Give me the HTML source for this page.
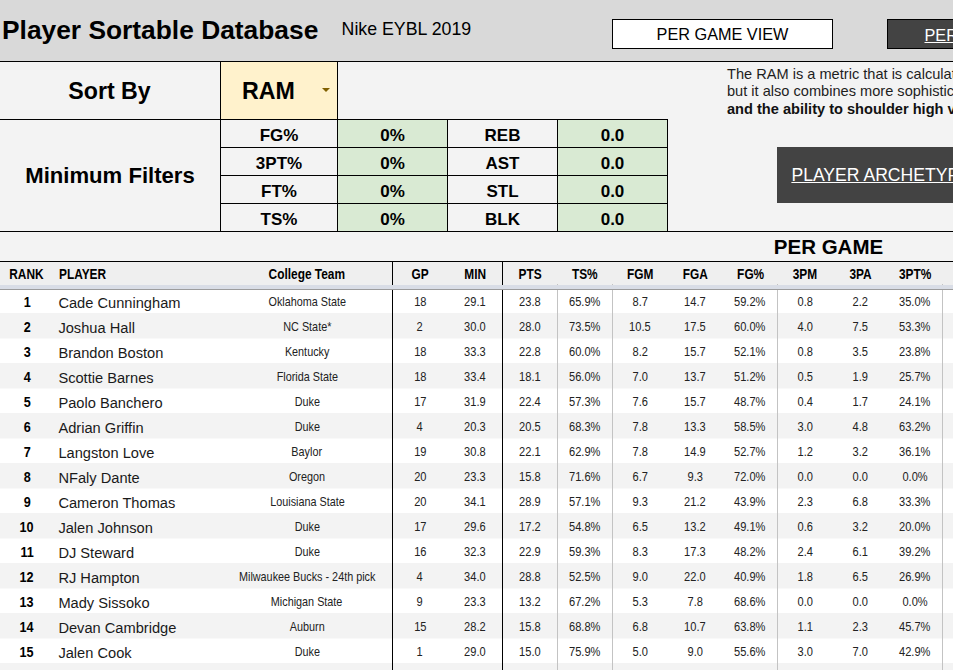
<!DOCTYPE html>
<html><head><meta charset="utf-8">
<style>
html,body{margin:0;padding:0;}
body{width:953px;height:670px;overflow:hidden;position:relative;background:#fff;font-family:"Liberation Sans",sans-serif;color:#000;}
.r{position:absolute;}
.t{position:absolute;white-space:nowrap;line-height:1;}
.c{position:absolute;white-space:nowrap;line-height:1;text-align:center;display:flex;justify-content:center;}
.c span{display:inline-block;transform-origin:center center;}
</style></head><body>
<div class="r" style="left:0px;top:0px;width:953px;height:61px;background:#d9d9d9;"></div>
<div class="r" style="left:0px;top:61px;width:953px;height:201px;background:#f3f3f3;"></div>
<div class="r" style="left:221px;top:62px;width:116px;height:57px;background:#fff2cc;"></div>
<div class="r" style="left:338px;top:120px;width:109px;height:27px;background:#d9ead3;"></div>
<div class="r" style="left:558px;top:120px;width:109px;height:27px;background:#d9ead3;"></div>
<div class="r" style="left:338px;top:148px;width:109px;height:27px;background:#d9ead3;"></div>
<div class="r" style="left:558px;top:148px;width:109px;height:27px;background:#d9ead3;"></div>
<div class="r" style="left:338px;top:176px;width:109px;height:27px;background:#d9ead3;"></div>
<div class="r" style="left:558px;top:176px;width:109px;height:27px;background:#d9ead3;"></div>
<div class="r" style="left:338px;top:204px;width:109px;height:27px;background:#d9ead3;"></div>
<div class="r" style="left:558px;top:204px;width:109px;height:27px;background:#d9ead3;"></div>
<div class="r" style="left:0px;top:262px;width:953px;height:23px;background:#efefef;"></div>
<div class="r" style="left:0px;top:285px;width:953px;height:4px;background:#d9dde6;"></div>
<div class="r" style="left:0px;top:289px;width:953px;height:1px;background:#9c9c9c;"></div>
<div class="r" style="left:0px;top:290px;width:953px;height:23px;background:#ffffff;"></div>
<div class="r" style="left:0px;top:313px;width:953px;height:25px;background:#f3f3f3;"></div>
<div class="r" style="left:0px;top:338px;width:953px;height:25px;background:#ffffff;"></div>
<div class="r" style="left:0px;top:363px;width:953px;height:25px;background:#f3f3f3;"></div>
<div class="r" style="left:0px;top:388px;width:953px;height:25px;background:#ffffff;"></div>
<div class="r" style="left:0px;top:413px;width:953px;height:25px;background:#f3f3f3;"></div>
<div class="r" style="left:0px;top:438px;width:953px;height:25px;background:#ffffff;"></div>
<div class="r" style="left:0px;top:463px;width:953px;height:25px;background:#f3f3f3;"></div>
<div class="r" style="left:0px;top:488px;width:953px;height:25px;background:#ffffff;"></div>
<div class="r" style="left:0px;top:513px;width:953px;height:25px;background:#f3f3f3;"></div>
<div class="r" style="left:0px;top:538px;width:953px;height:25px;background:#ffffff;"></div>
<div class="r" style="left:0px;top:563px;width:953px;height:25px;background:#f3f3f3;"></div>
<div class="r" style="left:0px;top:588px;width:953px;height:25px;background:#ffffff;"></div>
<div class="r" style="left:0px;top:613px;width:953px;height:25px;background:#f3f3f3;"></div>
<div class="r" style="left:0px;top:638px;width:953px;height:25px;background:#ffffff;"></div>
<div class="r" style="left:0px;top:663px;width:953px;height:25px;background:#f3f3f3;"></div>
<div class="r" style="left:0px;top:338px;width:953px;height:1px;background:#f9f9f9;"></div>
<div class="r" style="left:0px;top:388px;width:953px;height:1px;background:#f9f9f9;"></div>
<div class="r" style="left:0px;top:438px;width:953px;height:1px;background:#f9f9f9;"></div>
<div class="r" style="left:0px;top:488px;width:953px;height:1px;background:#f9f9f9;"></div>
<div class="r" style="left:0px;top:538px;width:953px;height:1px;background:#f9f9f9;"></div>
<div class="r" style="left:0px;top:588px;width:953px;height:1px;background:#f9f9f9;"></div>
<div class="r" style="left:0px;top:638px;width:953px;height:1px;background:#f9f9f9;"></div>
<div class="r" style="left:0px;top:688px;width:953px;height:1px;background:#f9f9f9;"></div>
<div class="r" style="left:612px;top:19px;width:221px;height:30px;background:#ffffff;box-sizing:border-box;border:1px solid #000;"></div>
<div class="r" style="left:887px;top:19px;width:80px;height:30px;background:#434343;box-sizing:border-box;border:1px solid #000;"></div>
<div class="r" style="left:777px;top:147px;width:190px;height:56px;background:#434343;"></div>
<div class="r" style="left:0px;top:61px;width:953px;height:1px;background:#000;"></div>
<div class="r" style="left:220px;top:61px;width:1px;height:171px;background:#000;"></div>
<div class="r" style="left:337px;top:61px;width:1px;height:171px;background:#000;"></div>
<div class="r" style="left:0px;top:119px;width:668px;height:1px;background:#000;"></div>
<div class="r" style="left:220px;top:147px;width:448px;height:1px;background:#000;"></div>
<div class="r" style="left:220px;top:175px;width:448px;height:1px;background:#000;"></div>
<div class="r" style="left:220px;top:203px;width:448px;height:1px;background:#000;"></div>
<div class="r" style="left:447px;top:119px;width:1px;height:113px;background:#000;"></div>
<div class="r" style="left:557px;top:119px;width:1px;height:113px;background:#000;"></div>
<div class="r" style="left:667px;top:119px;width:1px;height:113px;background:#000;"></div>
<div class="r" style="left:0px;top:231px;width:953px;height:1px;background:#000;"></div>
<div class="r" style="left:0px;top:261px;width:953px;height:1px;background:#000;"></div>
<div class="r" style="left:392px;top:261px;width:1px;height:24px;background:#000;"></div>
<div class="r" style="left:392px;top:290px;width:1px;height:380px;background:#000;"></div>
<div class="r" style="left:502px;top:261px;width:1px;height:24px;background:#000;"></div>
<div class="r" style="left:502px;top:290px;width:1px;height:380px;background:#000;"></div>
<div class="r" style="left:557px;top:290px;width:1px;height:380px;background:#c3c3c3;"></div>
<div class="r" style="left:557px;top:284px;width:1px;height:1px;background:#c3c3c3;"></div>
<div class="r" style="left:612px;top:290px;width:1px;height:380px;background:#c3c3c3;"></div>
<div class="r" style="left:612px;top:284px;width:1px;height:1px;background:#c3c3c3;"></div>
<div class="r" style="left:777px;top:290px;width:1px;height:380px;background:#c3c3c3;"></div>
<div class="r" style="left:777px;top:284px;width:1px;height:1px;background:#c3c3c3;"></div>
<div class="r" style="left:942px;top:290px;width:1px;height:380px;background:#c3c3c3;"></div>
<div class="r" style="left:942px;top:284px;width:1px;height:1px;background:#c3c3c3;"></div>
<div class="t" style="left:2px;top:16.69px;font-size:26.35px;font-weight:bold;">Player Sortable Database</div>
<div class="t" style="left:341.6px;top:20.57px;font-size:17.75px;">Nike EYBL 2019</div>
<div class="c" style="left:612px;width:221px;top:26.14px;font-size:16.25px;">PER GAME VIEW</div>
<div class="t" style="left:924.5px;top:27.24px;font-size:16.25px;color:#fff;text-decoration:underline;">PER</div>
<div class="c" style="left:-0.5px;width:220px;top:80.16px;font-size:23.2px;font-weight:bold;">Sort By</div>
<div class="t" style="left:242px;top:79.86px;font-size:23.2px;font-weight:bold;">RAM</div>
<div class="r" style="left:321.6px;top:87.8px;width:0;height:0;border-left:4.7px solid transparent;border-right:4.7px solid transparent;border-top:4.8px solid #806000;"></div>
<div class="t" style="left:727px;top:67.14px;font-size:14.6px;color:#1e1e1e;">The RAM is a metric that is calculated</div>
<div class="t" style="left:727px;top:83.54px;font-size:14.6px;color:#1e1e1e;">but it also combines more sophisticated</div>
<div class="t" style="left:727px;top:102.24px;font-size:14.6px;font-weight:bold;color:#111;">and the ability to shoulder high volume</div>
<div class="c" style="left:0px;width:220px;top:164.59px;font-size:22.1px;font-weight:bold;">Minimum Filters</div>
<div class="c" style="left:221px;width:116px;top:126.51px;font-size:17px;font-weight:bold;">FG%</div>
<div class="c" style="left:338px;width:109px;top:126.51px;font-size:17px;font-weight:bold;">0%</div>
<div class="c" style="left:448px;width:109px;top:126.51px;font-size:17px;font-weight:bold;">REB</div>
<div class="c" style="left:558px;width:109px;top:126.51px;font-size:17px;font-weight:bold;">0.0</div>
<div class="c" style="left:221px;width:116px;top:154.51px;font-size:17px;font-weight:bold;">3PT%</div>
<div class="c" style="left:338px;width:109px;top:154.51px;font-size:17px;font-weight:bold;">0%</div>
<div class="c" style="left:448px;width:109px;top:154.51px;font-size:17px;font-weight:bold;">AST</div>
<div class="c" style="left:558px;width:109px;top:154.51px;font-size:17px;font-weight:bold;">0.0</div>
<div class="c" style="left:221px;width:116px;top:182.51px;font-size:17px;font-weight:bold;">FT%</div>
<div class="c" style="left:338px;width:109px;top:182.51px;font-size:17px;font-weight:bold;">0%</div>
<div class="c" style="left:448px;width:109px;top:182.51px;font-size:17px;font-weight:bold;">STL</div>
<div class="c" style="left:558px;width:109px;top:182.51px;font-size:17px;font-weight:bold;">0.0</div>
<div class="c" style="left:221px;width:116px;top:210.51px;font-size:17px;font-weight:bold;">TS%</div>
<div class="c" style="left:338px;width:109px;top:210.51px;font-size:17px;font-weight:bold;">0%</div>
<div class="c" style="left:448px;width:109px;top:210.51px;font-size:17px;font-weight:bold;">BLK</div>
<div class="c" style="left:558px;width:109px;top:210.51px;font-size:17px;font-weight:bold;">0.0</div>
<div class="t" style="left:791.4px;top:167.0px;font-size:17.6px;color:#fff;text-decoration:underline;">PLAYER ARCHETYPES</div>
<div class="c" style="left:728.5px;width:200px;top:236.65px;font-size:20.5px;font-weight:bold;">PER GAME</div>
<div class="c" style="left:-0.8px;width:54px;top:265.78px;font-size:15.5px;font-weight:bold;"><span style="transform:scaleX(0.767)">RANK</span></div>
<div class="t" style="left:58.8px;top:265.78px;font-size:15.5px;font-weight:bold;"><span style="display:inline-block;transform:scaleX(0.767);transform-origin:left center">PLAYER</span></div>
<div class="c" style="left:221px;width:171px;top:265.78px;font-size:15.5px;font-weight:bold;"><span style="transform:scaleX(0.767)">College Team</span></div>
<div class="c" style="left:392.7px;width:55px;top:265.78px;font-size:15.5px;font-weight:bold;"><span style="transform:scaleX(0.767)">GP</span></div>
<div class="c" style="left:447.7px;width:55px;top:265.78px;font-size:15.5px;font-weight:bold;"><span style="transform:scaleX(0.767)">MIN</span></div>
<div class="c" style="left:502.7px;width:55px;top:265.78px;font-size:15.5px;font-weight:bold;"><span style="transform:scaleX(0.767)">PTS</span></div>
<div class="c" style="left:557.7px;width:55px;top:265.78px;font-size:15.5px;font-weight:bold;"><span style="transform:scaleX(0.767)">TS%</span></div>
<div class="c" style="left:612.7px;width:55px;top:265.78px;font-size:15.5px;font-weight:bold;"><span style="transform:scaleX(0.767)">FGM</span></div>
<div class="c" style="left:667.7px;width:55px;top:265.78px;font-size:15.5px;font-weight:bold;"><span style="transform:scaleX(0.767)">FGA</span></div>
<div class="c" style="left:722.7px;width:55px;top:265.78px;font-size:15.5px;font-weight:bold;"><span style="transform:scaleX(0.767)">FG%</span></div>
<div class="c" style="left:777.7px;width:55px;top:265.78px;font-size:15.5px;font-weight:bold;"><span style="transform:scaleX(0.767)">3PM</span></div>
<div class="c" style="left:832.7px;width:55px;top:265.78px;font-size:15.5px;font-weight:bold;"><span style="transform:scaleX(0.767)">3PA</span></div>
<div class="c" style="left:887.7px;width:55px;top:265.78px;font-size:15.5px;font-weight:bold;"><span style="transform:scaleX(0.767)">3PT%</span></div>
<div class="c" style="left:0px;width:54px;top:293.96px;font-size:15.4px;font-weight:bold;"><span style="transform:scaleX(0.82)">1</span></div>
<div class="t" style="left:58.4px;top:295.8px;font-size:14.65px;color:#1a1a1a;">Cade Cunningham</div>
<div class="c" style="left:221.6px;width:171px;top:294.83px;font-size:13.2px;color:#222;"><span style="transform:scaleX(0.82)">Oklahoma State</span></div>
<div class="c" style="left:392.6px;width:55px;top:294.93px;font-size:13.2px;color:#222;"><span style="transform:scaleX(0.84)">18</span></div>
<div class="c" style="left:447.6px;width:55px;top:294.93px;font-size:13.2px;color:#222;"><span style="transform:scaleX(0.84)">29.1</span></div>
<div class="c" style="left:502.6px;width:55px;top:294.93px;font-size:13.2px;color:#222;"><span style="transform:scaleX(0.84)">23.8</span></div>
<div class="c" style="left:557.6px;width:55px;top:294.93px;font-size:13.2px;color:#222;"><span style="transform:scaleX(0.84)">65.9%</span></div>
<div class="c" style="left:612.6px;width:55px;top:294.93px;font-size:13.2px;color:#222;"><span style="transform:scaleX(0.84)">8.7</span></div>
<div class="c" style="left:667.6px;width:55px;top:294.93px;font-size:13.2px;color:#222;"><span style="transform:scaleX(0.84)">14.7</span></div>
<div class="c" style="left:722.6px;width:55px;top:294.93px;font-size:13.2px;color:#222;"><span style="transform:scaleX(0.84)">59.2%</span></div>
<div class="c" style="left:777.6px;width:55px;top:294.93px;font-size:13.2px;color:#222;"><span style="transform:scaleX(0.84)">0.8</span></div>
<div class="c" style="left:832.6px;width:55px;top:294.93px;font-size:13.2px;color:#222;"><span style="transform:scaleX(0.84)">2.2</span></div>
<div class="c" style="left:887.6px;width:55px;top:294.93px;font-size:13.2px;color:#222;"><span style="transform:scaleX(0.84)">35.0%</span></div>
<div class="c" style="left:0px;width:54px;top:318.96px;font-size:15.4px;font-weight:bold;"><span style="transform:scaleX(0.82)">2</span></div>
<div class="t" style="left:58.4px;top:320.8px;font-size:14.65px;color:#1a1a1a;">Joshua Hall</div>
<div class="c" style="left:221.6px;width:171px;top:319.83px;font-size:13.2px;color:#222;"><span style="transform:scaleX(0.82)">NC State*</span></div>
<div class="c" style="left:392.6px;width:55px;top:319.93px;font-size:13.2px;color:#222;"><span style="transform:scaleX(0.84)">2</span></div>
<div class="c" style="left:447.6px;width:55px;top:319.93px;font-size:13.2px;color:#222;"><span style="transform:scaleX(0.84)">30.0</span></div>
<div class="c" style="left:502.6px;width:55px;top:319.93px;font-size:13.2px;color:#222;"><span style="transform:scaleX(0.84)">28.0</span></div>
<div class="c" style="left:557.6px;width:55px;top:319.93px;font-size:13.2px;color:#222;"><span style="transform:scaleX(0.84)">73.5%</span></div>
<div class="c" style="left:612.6px;width:55px;top:319.93px;font-size:13.2px;color:#222;"><span style="transform:scaleX(0.84)">10.5</span></div>
<div class="c" style="left:667.6px;width:55px;top:319.93px;font-size:13.2px;color:#222;"><span style="transform:scaleX(0.84)">17.5</span></div>
<div class="c" style="left:722.6px;width:55px;top:319.93px;font-size:13.2px;color:#222;"><span style="transform:scaleX(0.84)">60.0%</span></div>
<div class="c" style="left:777.6px;width:55px;top:319.93px;font-size:13.2px;color:#222;"><span style="transform:scaleX(0.84)">4.0</span></div>
<div class="c" style="left:832.6px;width:55px;top:319.93px;font-size:13.2px;color:#222;"><span style="transform:scaleX(0.84)">7.5</span></div>
<div class="c" style="left:887.6px;width:55px;top:319.93px;font-size:13.2px;color:#222;"><span style="transform:scaleX(0.84)">53.3%</span></div>
<div class="c" style="left:0px;width:54px;top:343.96px;font-size:15.4px;font-weight:bold;"><span style="transform:scaleX(0.82)">3</span></div>
<div class="t" style="left:58.4px;top:345.8px;font-size:14.65px;color:#1a1a1a;">Brandon Boston</div>
<div class="c" style="left:221.6px;width:171px;top:344.83px;font-size:13.2px;color:#222;"><span style="transform:scaleX(0.82)">Kentucky</span></div>
<div class="c" style="left:392.6px;width:55px;top:344.93px;font-size:13.2px;color:#222;"><span style="transform:scaleX(0.84)">18</span></div>
<div class="c" style="left:447.6px;width:55px;top:344.93px;font-size:13.2px;color:#222;"><span style="transform:scaleX(0.84)">33.3</span></div>
<div class="c" style="left:502.6px;width:55px;top:344.93px;font-size:13.2px;color:#222;"><span style="transform:scaleX(0.84)">22.8</span></div>
<div class="c" style="left:557.6px;width:55px;top:344.93px;font-size:13.2px;color:#222;"><span style="transform:scaleX(0.84)">60.0%</span></div>
<div class="c" style="left:612.6px;width:55px;top:344.93px;font-size:13.2px;color:#222;"><span style="transform:scaleX(0.84)">8.2</span></div>
<div class="c" style="left:667.6px;width:55px;top:344.93px;font-size:13.2px;color:#222;"><span style="transform:scaleX(0.84)">15.7</span></div>
<div class="c" style="left:722.6px;width:55px;top:344.93px;font-size:13.2px;color:#222;"><span style="transform:scaleX(0.84)">52.1%</span></div>
<div class="c" style="left:777.6px;width:55px;top:344.93px;font-size:13.2px;color:#222;"><span style="transform:scaleX(0.84)">0.8</span></div>
<div class="c" style="left:832.6px;width:55px;top:344.93px;font-size:13.2px;color:#222;"><span style="transform:scaleX(0.84)">3.5</span></div>
<div class="c" style="left:887.6px;width:55px;top:344.93px;font-size:13.2px;color:#222;"><span style="transform:scaleX(0.84)">23.8%</span></div>
<div class="c" style="left:0px;width:54px;top:368.96px;font-size:15.4px;font-weight:bold;"><span style="transform:scaleX(0.82)">4</span></div>
<div class="t" style="left:58.4px;top:370.8px;font-size:14.65px;color:#1a1a1a;">Scottie Barnes</div>
<div class="c" style="left:221.6px;width:171px;top:369.83px;font-size:13.2px;color:#222;"><span style="transform:scaleX(0.82)">Florida State</span></div>
<div class="c" style="left:392.6px;width:55px;top:369.93px;font-size:13.2px;color:#222;"><span style="transform:scaleX(0.84)">18</span></div>
<div class="c" style="left:447.6px;width:55px;top:369.93px;font-size:13.2px;color:#222;"><span style="transform:scaleX(0.84)">33.4</span></div>
<div class="c" style="left:502.6px;width:55px;top:369.93px;font-size:13.2px;color:#222;"><span style="transform:scaleX(0.84)">18.1</span></div>
<div class="c" style="left:557.6px;width:55px;top:369.93px;font-size:13.2px;color:#222;"><span style="transform:scaleX(0.84)">56.0%</span></div>
<div class="c" style="left:612.6px;width:55px;top:369.93px;font-size:13.2px;color:#222;"><span style="transform:scaleX(0.84)">7.0</span></div>
<div class="c" style="left:667.6px;width:55px;top:369.93px;font-size:13.2px;color:#222;"><span style="transform:scaleX(0.84)">13.7</span></div>
<div class="c" style="left:722.6px;width:55px;top:369.93px;font-size:13.2px;color:#222;"><span style="transform:scaleX(0.84)">51.2%</span></div>
<div class="c" style="left:777.6px;width:55px;top:369.93px;font-size:13.2px;color:#222;"><span style="transform:scaleX(0.84)">0.5</span></div>
<div class="c" style="left:832.6px;width:55px;top:369.93px;font-size:13.2px;color:#222;"><span style="transform:scaleX(0.84)">1.9</span></div>
<div class="c" style="left:887.6px;width:55px;top:369.93px;font-size:13.2px;color:#222;"><span style="transform:scaleX(0.84)">25.7%</span></div>
<div class="c" style="left:0px;width:54px;top:393.96px;font-size:15.4px;font-weight:bold;"><span style="transform:scaleX(0.82)">5</span></div>
<div class="t" style="left:58.4px;top:395.8px;font-size:14.65px;color:#1a1a1a;">Paolo Banchero</div>
<div class="c" style="left:221.6px;width:171px;top:394.83px;font-size:13.2px;color:#222;"><span style="transform:scaleX(0.82)">Duke</span></div>
<div class="c" style="left:392.6px;width:55px;top:394.93px;font-size:13.2px;color:#222;"><span style="transform:scaleX(0.84)">17</span></div>
<div class="c" style="left:447.6px;width:55px;top:394.93px;font-size:13.2px;color:#222;"><span style="transform:scaleX(0.84)">31.9</span></div>
<div class="c" style="left:502.6px;width:55px;top:394.93px;font-size:13.2px;color:#222;"><span style="transform:scaleX(0.84)">22.4</span></div>
<div class="c" style="left:557.6px;width:55px;top:394.93px;font-size:13.2px;color:#222;"><span style="transform:scaleX(0.84)">57.3%</span></div>
<div class="c" style="left:612.6px;width:55px;top:394.93px;font-size:13.2px;color:#222;"><span style="transform:scaleX(0.84)">7.6</span></div>
<div class="c" style="left:667.6px;width:55px;top:394.93px;font-size:13.2px;color:#222;"><span style="transform:scaleX(0.84)">15.7</span></div>
<div class="c" style="left:722.6px;width:55px;top:394.93px;font-size:13.2px;color:#222;"><span style="transform:scaleX(0.84)">48.7%</span></div>
<div class="c" style="left:777.6px;width:55px;top:394.93px;font-size:13.2px;color:#222;"><span style="transform:scaleX(0.84)">0.4</span></div>
<div class="c" style="left:832.6px;width:55px;top:394.93px;font-size:13.2px;color:#222;"><span style="transform:scaleX(0.84)">1.7</span></div>
<div class="c" style="left:887.6px;width:55px;top:394.93px;font-size:13.2px;color:#222;"><span style="transform:scaleX(0.84)">24.1%</span></div>
<div class="c" style="left:0px;width:54px;top:418.96px;font-size:15.4px;font-weight:bold;"><span style="transform:scaleX(0.82)">6</span></div>
<div class="t" style="left:58.4px;top:420.8px;font-size:14.65px;color:#1a1a1a;">Adrian Griffin</div>
<div class="c" style="left:221.6px;width:171px;top:419.83px;font-size:13.2px;color:#222;"><span style="transform:scaleX(0.82)">Duke</span></div>
<div class="c" style="left:392.6px;width:55px;top:419.93px;font-size:13.2px;color:#222;"><span style="transform:scaleX(0.84)">4</span></div>
<div class="c" style="left:447.6px;width:55px;top:419.93px;font-size:13.2px;color:#222;"><span style="transform:scaleX(0.84)">20.3</span></div>
<div class="c" style="left:502.6px;width:55px;top:419.93px;font-size:13.2px;color:#222;"><span style="transform:scaleX(0.84)">20.5</span></div>
<div class="c" style="left:557.6px;width:55px;top:419.93px;font-size:13.2px;color:#222;"><span style="transform:scaleX(0.84)">68.3%</span></div>
<div class="c" style="left:612.6px;width:55px;top:419.93px;font-size:13.2px;color:#222;"><span style="transform:scaleX(0.84)">7.8</span></div>
<div class="c" style="left:667.6px;width:55px;top:419.93px;font-size:13.2px;color:#222;"><span style="transform:scaleX(0.84)">13.3</span></div>
<div class="c" style="left:722.6px;width:55px;top:419.93px;font-size:13.2px;color:#222;"><span style="transform:scaleX(0.84)">58.5%</span></div>
<div class="c" style="left:777.6px;width:55px;top:419.93px;font-size:13.2px;color:#222;"><span style="transform:scaleX(0.84)">3.0</span></div>
<div class="c" style="left:832.6px;width:55px;top:419.93px;font-size:13.2px;color:#222;"><span style="transform:scaleX(0.84)">4.8</span></div>
<div class="c" style="left:887.6px;width:55px;top:419.93px;font-size:13.2px;color:#222;"><span style="transform:scaleX(0.84)">63.2%</span></div>
<div class="c" style="left:0px;width:54px;top:443.96px;font-size:15.4px;font-weight:bold;"><span style="transform:scaleX(0.82)">7</span></div>
<div class="t" style="left:58.4px;top:445.8px;font-size:14.65px;color:#1a1a1a;">Langston Love</div>
<div class="c" style="left:221.6px;width:171px;top:444.83px;font-size:13.2px;color:#222;"><span style="transform:scaleX(0.82)">Baylor</span></div>
<div class="c" style="left:392.6px;width:55px;top:444.93px;font-size:13.2px;color:#222;"><span style="transform:scaleX(0.84)">19</span></div>
<div class="c" style="left:447.6px;width:55px;top:444.93px;font-size:13.2px;color:#222;"><span style="transform:scaleX(0.84)">30.8</span></div>
<div class="c" style="left:502.6px;width:55px;top:444.93px;font-size:13.2px;color:#222;"><span style="transform:scaleX(0.84)">22.1</span></div>
<div class="c" style="left:557.6px;width:55px;top:444.93px;font-size:13.2px;color:#222;"><span style="transform:scaleX(0.84)">62.9%</span></div>
<div class="c" style="left:612.6px;width:55px;top:444.93px;font-size:13.2px;color:#222;"><span style="transform:scaleX(0.84)">7.8</span></div>
<div class="c" style="left:667.6px;width:55px;top:444.93px;font-size:13.2px;color:#222;"><span style="transform:scaleX(0.84)">14.9</span></div>
<div class="c" style="left:722.6px;width:55px;top:444.93px;font-size:13.2px;color:#222;"><span style="transform:scaleX(0.84)">52.7%</span></div>
<div class="c" style="left:777.6px;width:55px;top:444.93px;font-size:13.2px;color:#222;"><span style="transform:scaleX(0.84)">1.2</span></div>
<div class="c" style="left:832.6px;width:55px;top:444.93px;font-size:13.2px;color:#222;"><span style="transform:scaleX(0.84)">3.2</span></div>
<div class="c" style="left:887.6px;width:55px;top:444.93px;font-size:13.2px;color:#222;"><span style="transform:scaleX(0.84)">36.1%</span></div>
<div class="c" style="left:0px;width:54px;top:468.96px;font-size:15.4px;font-weight:bold;"><span style="transform:scaleX(0.82)">8</span></div>
<div class="t" style="left:58.4px;top:470.8px;font-size:14.65px;color:#1a1a1a;">NFaly Dante</div>
<div class="c" style="left:221.6px;width:171px;top:469.83px;font-size:13.2px;color:#222;"><span style="transform:scaleX(0.82)">Oregon</span></div>
<div class="c" style="left:392.6px;width:55px;top:469.93px;font-size:13.2px;color:#222;"><span style="transform:scaleX(0.84)">20</span></div>
<div class="c" style="left:447.6px;width:55px;top:469.93px;font-size:13.2px;color:#222;"><span style="transform:scaleX(0.84)">23.3</span></div>
<div class="c" style="left:502.6px;width:55px;top:469.93px;font-size:13.2px;color:#222;"><span style="transform:scaleX(0.84)">15.8</span></div>
<div class="c" style="left:557.6px;width:55px;top:469.93px;font-size:13.2px;color:#222;"><span style="transform:scaleX(0.84)">71.6%</span></div>
<div class="c" style="left:612.6px;width:55px;top:469.93px;font-size:13.2px;color:#222;"><span style="transform:scaleX(0.84)">6.7</span></div>
<div class="c" style="left:667.6px;width:55px;top:469.93px;font-size:13.2px;color:#222;"><span style="transform:scaleX(0.84)">9.3</span></div>
<div class="c" style="left:722.6px;width:55px;top:469.93px;font-size:13.2px;color:#222;"><span style="transform:scaleX(0.84)">72.0%</span></div>
<div class="c" style="left:777.6px;width:55px;top:469.93px;font-size:13.2px;color:#222;"><span style="transform:scaleX(0.84)">0.0</span></div>
<div class="c" style="left:832.6px;width:55px;top:469.93px;font-size:13.2px;color:#222;"><span style="transform:scaleX(0.84)">0.0</span></div>
<div class="c" style="left:887.6px;width:55px;top:469.93px;font-size:13.2px;color:#222;"><span style="transform:scaleX(0.84)">0.0%</span></div>
<div class="c" style="left:0px;width:54px;top:493.96px;font-size:15.4px;font-weight:bold;"><span style="transform:scaleX(0.82)">9</span></div>
<div class="t" style="left:58.4px;top:495.8px;font-size:14.65px;color:#1a1a1a;">Cameron Thomas</div>
<div class="c" style="left:221.6px;width:171px;top:494.83px;font-size:13.2px;color:#222;"><span style="transform:scaleX(0.82)">Louisiana State</span></div>
<div class="c" style="left:392.6px;width:55px;top:494.93px;font-size:13.2px;color:#222;"><span style="transform:scaleX(0.84)">20</span></div>
<div class="c" style="left:447.6px;width:55px;top:494.93px;font-size:13.2px;color:#222;"><span style="transform:scaleX(0.84)">34.1</span></div>
<div class="c" style="left:502.6px;width:55px;top:494.93px;font-size:13.2px;color:#222;"><span style="transform:scaleX(0.84)">28.9</span></div>
<div class="c" style="left:557.6px;width:55px;top:494.93px;font-size:13.2px;color:#222;"><span style="transform:scaleX(0.84)">57.1%</span></div>
<div class="c" style="left:612.6px;width:55px;top:494.93px;font-size:13.2px;color:#222;"><span style="transform:scaleX(0.84)">9.3</span></div>
<div class="c" style="left:667.6px;width:55px;top:494.93px;font-size:13.2px;color:#222;"><span style="transform:scaleX(0.84)">21.2</span></div>
<div class="c" style="left:722.6px;width:55px;top:494.93px;font-size:13.2px;color:#222;"><span style="transform:scaleX(0.84)">43.9%</span></div>
<div class="c" style="left:777.6px;width:55px;top:494.93px;font-size:13.2px;color:#222;"><span style="transform:scaleX(0.84)">2.3</span></div>
<div class="c" style="left:832.6px;width:55px;top:494.93px;font-size:13.2px;color:#222;"><span style="transform:scaleX(0.84)">6.8</span></div>
<div class="c" style="left:887.6px;width:55px;top:494.93px;font-size:13.2px;color:#222;"><span style="transform:scaleX(0.84)">33.3%</span></div>
<div class="c" style="left:0px;width:54px;top:518.96px;font-size:15.4px;font-weight:bold;"><span style="transform:scaleX(0.82)">10</span></div>
<div class="t" style="left:58.4px;top:520.8px;font-size:14.65px;color:#1a1a1a;">Jalen Johnson</div>
<div class="c" style="left:221.6px;width:171px;top:519.83px;font-size:13.2px;color:#222;"><span style="transform:scaleX(0.82)">Duke</span></div>
<div class="c" style="left:392.6px;width:55px;top:519.93px;font-size:13.2px;color:#222;"><span style="transform:scaleX(0.84)">17</span></div>
<div class="c" style="left:447.6px;width:55px;top:519.93px;font-size:13.2px;color:#222;"><span style="transform:scaleX(0.84)">29.6</span></div>
<div class="c" style="left:502.6px;width:55px;top:519.93px;font-size:13.2px;color:#222;"><span style="transform:scaleX(0.84)">17.2</span></div>
<div class="c" style="left:557.6px;width:55px;top:519.93px;font-size:13.2px;color:#222;"><span style="transform:scaleX(0.84)">54.8%</span></div>
<div class="c" style="left:612.6px;width:55px;top:519.93px;font-size:13.2px;color:#222;"><span style="transform:scaleX(0.84)">6.5</span></div>
<div class="c" style="left:667.6px;width:55px;top:519.93px;font-size:13.2px;color:#222;"><span style="transform:scaleX(0.84)">13.2</span></div>
<div class="c" style="left:722.6px;width:55px;top:519.93px;font-size:13.2px;color:#222;"><span style="transform:scaleX(0.84)">49.1%</span></div>
<div class="c" style="left:777.6px;width:55px;top:519.93px;font-size:13.2px;color:#222;"><span style="transform:scaleX(0.84)">0.6</span></div>
<div class="c" style="left:832.6px;width:55px;top:519.93px;font-size:13.2px;color:#222;"><span style="transform:scaleX(0.84)">3.2</span></div>
<div class="c" style="left:887.6px;width:55px;top:519.93px;font-size:13.2px;color:#222;"><span style="transform:scaleX(0.84)">20.0%</span></div>
<div class="c" style="left:0px;width:54px;top:543.96px;font-size:15.4px;font-weight:bold;"><span style="transform:scaleX(0.82)">11</span></div>
<div class="t" style="left:58.4px;top:545.8px;font-size:14.65px;color:#1a1a1a;">DJ Steward</div>
<div class="c" style="left:221.6px;width:171px;top:544.83px;font-size:13.2px;color:#222;"><span style="transform:scaleX(0.82)">Duke</span></div>
<div class="c" style="left:392.6px;width:55px;top:544.93px;font-size:13.2px;color:#222;"><span style="transform:scaleX(0.84)">16</span></div>
<div class="c" style="left:447.6px;width:55px;top:544.93px;font-size:13.2px;color:#222;"><span style="transform:scaleX(0.84)">32.3</span></div>
<div class="c" style="left:502.6px;width:55px;top:544.93px;font-size:13.2px;color:#222;"><span style="transform:scaleX(0.84)">22.9</span></div>
<div class="c" style="left:557.6px;width:55px;top:544.93px;font-size:13.2px;color:#222;"><span style="transform:scaleX(0.84)">59.3%</span></div>
<div class="c" style="left:612.6px;width:55px;top:544.93px;font-size:13.2px;color:#222;"><span style="transform:scaleX(0.84)">8.3</span></div>
<div class="c" style="left:667.6px;width:55px;top:544.93px;font-size:13.2px;color:#222;"><span style="transform:scaleX(0.84)">17.3</span></div>
<div class="c" style="left:722.6px;width:55px;top:544.93px;font-size:13.2px;color:#222;"><span style="transform:scaleX(0.84)">48.2%</span></div>
<div class="c" style="left:777.6px;width:55px;top:544.93px;font-size:13.2px;color:#222;"><span style="transform:scaleX(0.84)">2.4</span></div>
<div class="c" style="left:832.6px;width:55px;top:544.93px;font-size:13.2px;color:#222;"><span style="transform:scaleX(0.84)">6.1</span></div>
<div class="c" style="left:887.6px;width:55px;top:544.93px;font-size:13.2px;color:#222;"><span style="transform:scaleX(0.84)">39.2%</span></div>
<div class="c" style="left:0px;width:54px;top:568.96px;font-size:15.4px;font-weight:bold;"><span style="transform:scaleX(0.82)">12</span></div>
<div class="t" style="left:58.4px;top:570.8px;font-size:14.65px;color:#1a1a1a;">RJ Hampton</div>
<div class="c" style="left:221.6px;width:171px;top:569.83px;font-size:13.2px;color:#222;"><span style="transform:scaleX(0.82)">Milwaukee Bucks - 24th pick</span></div>
<div class="c" style="left:392.6px;width:55px;top:569.93px;font-size:13.2px;color:#222;"><span style="transform:scaleX(0.84)">4</span></div>
<div class="c" style="left:447.6px;width:55px;top:569.93px;font-size:13.2px;color:#222;"><span style="transform:scaleX(0.84)">34.0</span></div>
<div class="c" style="left:502.6px;width:55px;top:569.93px;font-size:13.2px;color:#222;"><span style="transform:scaleX(0.84)">28.8</span></div>
<div class="c" style="left:557.6px;width:55px;top:569.93px;font-size:13.2px;color:#222;"><span style="transform:scaleX(0.84)">52.5%</span></div>
<div class="c" style="left:612.6px;width:55px;top:569.93px;font-size:13.2px;color:#222;"><span style="transform:scaleX(0.84)">9.0</span></div>
<div class="c" style="left:667.6px;width:55px;top:569.93px;font-size:13.2px;color:#222;"><span style="transform:scaleX(0.84)">22.0</span></div>
<div class="c" style="left:722.6px;width:55px;top:569.93px;font-size:13.2px;color:#222;"><span style="transform:scaleX(0.84)">40.9%</span></div>
<div class="c" style="left:777.6px;width:55px;top:569.93px;font-size:13.2px;color:#222;"><span style="transform:scaleX(0.84)">1.8</span></div>
<div class="c" style="left:832.6px;width:55px;top:569.93px;font-size:13.2px;color:#222;"><span style="transform:scaleX(0.84)">6.5</span></div>
<div class="c" style="left:887.6px;width:55px;top:569.93px;font-size:13.2px;color:#222;"><span style="transform:scaleX(0.84)">26.9%</span></div>
<div class="c" style="left:0px;width:54px;top:593.96px;font-size:15.4px;font-weight:bold;"><span style="transform:scaleX(0.82)">13</span></div>
<div class="t" style="left:58.4px;top:595.8px;font-size:14.65px;color:#1a1a1a;">Mady Sissoko</div>
<div class="c" style="left:221.6px;width:171px;top:594.83px;font-size:13.2px;color:#222;"><span style="transform:scaleX(0.82)">Michigan State</span></div>
<div class="c" style="left:392.6px;width:55px;top:594.93px;font-size:13.2px;color:#222;"><span style="transform:scaleX(0.84)">9</span></div>
<div class="c" style="left:447.6px;width:55px;top:594.93px;font-size:13.2px;color:#222;"><span style="transform:scaleX(0.84)">23.3</span></div>
<div class="c" style="left:502.6px;width:55px;top:594.93px;font-size:13.2px;color:#222;"><span style="transform:scaleX(0.84)">13.2</span></div>
<div class="c" style="left:557.6px;width:55px;top:594.93px;font-size:13.2px;color:#222;"><span style="transform:scaleX(0.84)">67.2%</span></div>
<div class="c" style="left:612.6px;width:55px;top:594.93px;font-size:13.2px;color:#222;"><span style="transform:scaleX(0.84)">5.3</span></div>
<div class="c" style="left:667.6px;width:55px;top:594.93px;font-size:13.2px;color:#222;"><span style="transform:scaleX(0.84)">7.8</span></div>
<div class="c" style="left:722.6px;width:55px;top:594.93px;font-size:13.2px;color:#222;"><span style="transform:scaleX(0.84)">68.6%</span></div>
<div class="c" style="left:777.6px;width:55px;top:594.93px;font-size:13.2px;color:#222;"><span style="transform:scaleX(0.84)">0.0</span></div>
<div class="c" style="left:832.6px;width:55px;top:594.93px;font-size:13.2px;color:#222;"><span style="transform:scaleX(0.84)">0.0</span></div>
<div class="c" style="left:887.6px;width:55px;top:594.93px;font-size:13.2px;color:#222;"><span style="transform:scaleX(0.84)">0.0%</span></div>
<div class="c" style="left:0px;width:54px;top:618.96px;font-size:15.4px;font-weight:bold;"><span style="transform:scaleX(0.82)">14</span></div>
<div class="t" style="left:58.4px;top:620.8px;font-size:14.65px;color:#1a1a1a;">Devan Cambridge</div>
<div class="c" style="left:221.6px;width:171px;top:619.83px;font-size:13.2px;color:#222;"><span style="transform:scaleX(0.82)">Auburn</span></div>
<div class="c" style="left:392.6px;width:55px;top:619.93px;font-size:13.2px;color:#222;"><span style="transform:scaleX(0.84)">15</span></div>
<div class="c" style="left:447.6px;width:55px;top:619.93px;font-size:13.2px;color:#222;"><span style="transform:scaleX(0.84)">28.2</span></div>
<div class="c" style="left:502.6px;width:55px;top:619.93px;font-size:13.2px;color:#222;"><span style="transform:scaleX(0.84)">15.8</span></div>
<div class="c" style="left:557.6px;width:55px;top:619.93px;font-size:13.2px;color:#222;"><span style="transform:scaleX(0.84)">68.8%</span></div>
<div class="c" style="left:612.6px;width:55px;top:619.93px;font-size:13.2px;color:#222;"><span style="transform:scaleX(0.84)">6.8</span></div>
<div class="c" style="left:667.6px;width:55px;top:619.93px;font-size:13.2px;color:#222;"><span style="transform:scaleX(0.84)">10.7</span></div>
<div class="c" style="left:722.6px;width:55px;top:619.93px;font-size:13.2px;color:#222;"><span style="transform:scaleX(0.84)">63.8%</span></div>
<div class="c" style="left:777.6px;width:55px;top:619.93px;font-size:13.2px;color:#222;"><span style="transform:scaleX(0.84)">1.1</span></div>
<div class="c" style="left:832.6px;width:55px;top:619.93px;font-size:13.2px;color:#222;"><span style="transform:scaleX(0.84)">2.3</span></div>
<div class="c" style="left:887.6px;width:55px;top:619.93px;font-size:13.2px;color:#222;"><span style="transform:scaleX(0.84)">45.7%</span></div>
<div class="c" style="left:0px;width:54px;top:643.96px;font-size:15.4px;font-weight:bold;"><span style="transform:scaleX(0.82)">15</span></div>
<div class="t" style="left:58.4px;top:645.8px;font-size:14.65px;color:#1a1a1a;">Jalen Cook</div>
<div class="c" style="left:221.6px;width:171px;top:644.83px;font-size:13.2px;color:#222;"><span style="transform:scaleX(0.82)">Duke</span></div>
<div class="c" style="left:392.6px;width:55px;top:644.93px;font-size:13.2px;color:#222;"><span style="transform:scaleX(0.84)">1</span></div>
<div class="c" style="left:447.6px;width:55px;top:644.93px;font-size:13.2px;color:#222;"><span style="transform:scaleX(0.84)">29.0</span></div>
<div class="c" style="left:502.6px;width:55px;top:644.93px;font-size:13.2px;color:#222;"><span style="transform:scaleX(0.84)">15.0</span></div>
<div class="c" style="left:557.6px;width:55px;top:644.93px;font-size:13.2px;color:#222;"><span style="transform:scaleX(0.84)">75.9%</span></div>
<div class="c" style="left:612.6px;width:55px;top:644.93px;font-size:13.2px;color:#222;"><span style="transform:scaleX(0.84)">5.0</span></div>
<div class="c" style="left:667.6px;width:55px;top:644.93px;font-size:13.2px;color:#222;"><span style="transform:scaleX(0.84)">9.0</span></div>
<div class="c" style="left:722.6px;width:55px;top:644.93px;font-size:13.2px;color:#222;"><span style="transform:scaleX(0.84)">55.6%</span></div>
<div class="c" style="left:777.6px;width:55px;top:644.93px;font-size:13.2px;color:#222;"><span style="transform:scaleX(0.84)">3.0</span></div>
<div class="c" style="left:832.6px;width:55px;top:644.93px;font-size:13.2px;color:#222;"><span style="transform:scaleX(0.84)">7.0</span></div>
<div class="c" style="left:887.6px;width:55px;top:644.93px;font-size:13.2px;color:#222;"><span style="transform:scaleX(0.84)">42.9%</span></div>
</body></html>
